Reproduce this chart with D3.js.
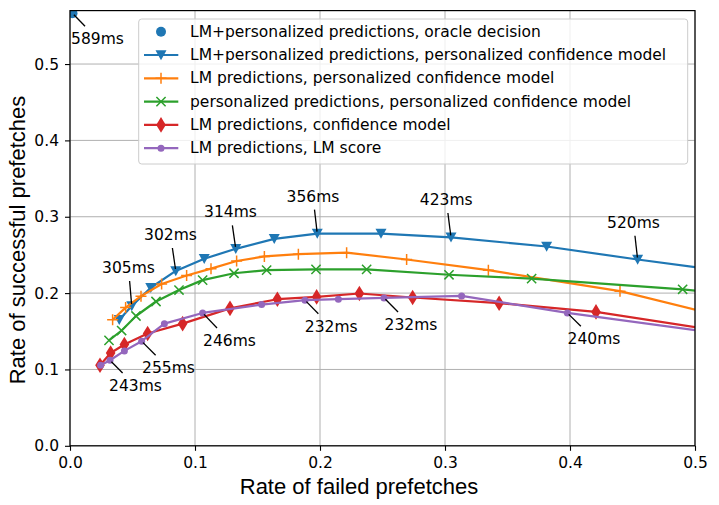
<!DOCTYPE html>
<html>
<head>
<meta charset="utf-8">
<script src="https://cdn.jsdelivr.net/npm/d3@7"></script>
<style>
  body { margin: 0; background: #fff; }
  svg { display: block; }
  .tick text { font-family: "DejaVu Sans", sans-serif; font-size: 15.5px; fill: #000; }
  .tick line { stroke: #000; stroke-width: 1.1; }
</style>
</head>
<body>
<svg id="chart" width="719" height="505"></svg>
<script>
// values (rate of failed prefetches, rate of successful prefetches)
var seriesNames = [
    "LM+personalized predictions, oracle decision",
    "LM+personalized predictions, personalized confidence model",
    "LM predictions, personalized confidence model",
    "personalized predictions, personalized confidence model",
    "LM predictions, confidence model",
    "LM predictions, LM score"
];

var oracleX = [0.002];
var oracleY = [0.5665];

var bothX = [0.0394, 0.0494, 0.0646, 0.0846, 0.1074, 0.1326, 0.1634, 0.1978, 0.2488, 0.3048, 0.3813, 0.4541, 0.527];
var bothY = [0.165, 0.183, 0.207, 0.229, 0.245, 0.258, 0.271, 0.278, 0.278, 0.273, 0.261, 0.244, 0.228];

var lmPersX = [0.0341, 0.0445, 0.0568, 0.0733, 0.0933, 0.1128, 0.1333, 0.1555, 0.1827, 0.2213, 0.2693, 0.3347, 0.44, 0.55];
var lmPersY = [0.165, 0.181, 0.196, 0.212, 0.223, 0.232, 0.242, 0.248, 0.251, 0.253, 0.244, 0.230, 0.2025, 0.158];

var persX = [0.0312, 0.0413, 0.0528, 0.0688, 0.0872, 0.1061, 0.1312, 0.1573, 0.1968, 0.2373, 0.3032, 0.3693, 0.4901, 0.58];
var persY = [0.138, 0.151, 0.170, 0.189, 0.204, 0.217, 0.226, 0.230, 0.231, 0.231, 0.224, 0.219, 0.205, 0.19];

var lmConfX = [0.024, 0.0325, 0.0435, 0.0621, 0.0901, 0.128, 0.1659, 0.1973, 0.2315, 0.2741, 0.3433, 0.4208, 0.56];
var lmConfY = [0.1055, 0.1216, 0.1326, 0.147, 0.160, 0.180, 0.192, 0.195, 0.1995, 0.1942, 0.1868, 0.1754, 0.1405];

var lmScoreX = [0.0245, 0.032, 0.0435, 0.0573, 0.0755, 0.1061, 0.1533, 0.188, 0.2147, 0.2512, 0.3133, 0.3979, 0.55];
var lmScoreY = [0.1055, 0.112, 0.1243, 0.137, 0.160, 0.174, 0.185, 0.1907, 0.192, 0.1937, 0.1963, 0.174, 0.1405];

// annotations: label, series index, point index, text position (data units)
var noteLabels = ["589ms", "305ms", "302ms", "314ms", "356ms", "423ms", "520ms", "243ms", "255ms", "246ms", "232ms", "232ms", "240ms"];
var noteSeries = [0, 1, 1, 1, 1, 1, 1, 5, 5, 5, 5, 5, 5];
var notePoint  = [0, 1, 3, 5, 7, 9, 11, 1, 3, 5, 7, 9, 11];
var noteTextX  = [0.022, 0.0468, 0.0804, 0.1284, 0.1944, 0.301, 0.4508, 0.0524, 0.0788, 0.1276, 0.209, 0.2728, 0.4192];
var noteTextY  = [0.5324, 0.2329, 0.2761, 0.3058, 0.3263, 0.3219, 0.2922, 0.0783, 0.1015, 0.1373, 0.156, 0.1582, 0.1395];

var xTicks = [0, 0.1, 0.2, 0.3, 0.4, 0.5];
var yTicks = [0, 0.1, 0.2, 0.3, 0.4, 0.5];

var colors = ["#1f77b4", "#1f77b4", "#ff7f0e", "#2ca02c", "#d62728", "#9467bd"];
var markers = ["circle", "tri", "plus", "cross", "diamond", "dot"];

var allX = [oracleX, bothX, lmPersX, persX, lmConfX, lmScoreX];
var allY = [oracleY, bothY, lmPersY, persY, lmConfY, lmScoreY];
var series = allX.map(function (xs, s) {
    return xs.map(function (x, i) { return { x: x, y: allY[s][i] }; });
});

var plotLeft = 70, plotRight = 695, plotTop = 10.6, plotBottom = 445.8;
var svg = d3.select("#chart");

var xScale = d3.scaleLinear().domain([0, 0.5]).range([plotLeft, plotRight]);
var yScale = d3.scaleLinear().domain([0, 0.57]).range([plotBottom, plotTop]);

svg.append("defs")
    .append("clipPath")
    .attr("id", "plotclip")
    .append("rect")
    .attr("x", plotLeft)
    .attr("y", plotTop)
    .attr("width", plotRight - plotLeft)
    .attr("height", plotBottom - plotTop);

// grid
svg.append("g")
    .selectAll("line")
    .data(xTicks)
    .enter()
    .append("line")
    .attr("x1", function (d) { return xScale(d); })
    .attr("x2", function (d) { return xScale(d); })
    .attr("y1", plotTop)
    .attr("y2", plotBottom)
    .attr("stroke", "#b0b0b0")
    .attr("stroke-width", 1);

svg.append("g")
    .selectAll("line")
    .data(yTicks)
    .enter()
    .append("line")
    .attr("x1", plotLeft)
    .attr("x2", plotRight)
    .attr("y1", function (d) { return yScale(d); })
    .attr("y2", function (d) { return yScale(d); })
    .attr("stroke", "#b0b0b0")
    .attr("stroke-width", 1);

function markerPath(type) {
    if (type === "tri") return "M-5.5,-4.8L5.5,-4.8L0,5.2Z";
    if (type === "plus") return "M-5.5,0H5.5M0,-5.5V5.5";
    if (type === "cross") return "M-4.6,-4.6L4.6,4.6M-4.6,4.6L4.6,-4.6";
    if (type === "diamond") return "M0,-7.8L4.8,0L0,7.8L-4.8,0Z";
    return null;
}

function drawMarker(g, type, color) {
    if (type === "circle") {
        g.append("circle").attr("r", 5).attr("fill", color);
    } else if (type === "dot") {
        g.append("circle").attr("r", 3.5).attr("fill", color);
    } else if (type === "plus" || type === "cross") {
        g.append("path")
            .attr("d", markerPath(type))
            .attr("fill", "none")
            .attr("stroke", color)
            .attr("stroke-width", 1.5);
    } else {
        g.append("path").attr("d", markerPath(type)).attr("fill", color);
    }
}

var line = d3.line()
    .x(function (d) { return xScale(d.x); })
    .y(function (d) { return yScale(d.y); });

var plot = svg.append("g").attr("clip-path", "url(#plotclip)");

series.forEach(function (data, s) {
    var g = plot.append("g");
    if (s > 0) {
        g.append("path")
            .datum(data)
            .attr("d", line)
            .attr("fill", "none")
            .attr("stroke", colors[s])
            .attr("stroke-width", 2.2)
            .attr("stroke-linejoin", "round");
    }
    g.selectAll(".m")
        .data(data)
        .enter()
        .append("g")
        .attr("transform", function (d) {
            return "translate(" + xScale(d.x) + "," + yScale(d.y) + ")";
        })
        .each(function () { drawMarker(d3.select(this), markers[s], colors[s]); });
});

// annotations
var notes = svg.append("g");
noteLabels.forEach(function (label, i) {
    var target = series[noteSeries[i]][notePoint[i]];
    var px = xScale(target.x), py = yScale(target.y);
    var tx = xScale(noteTextX[i]), ty = yScale(noteTextY[i]);
    var t = notes.append("text")
        .attr("x", tx)
        .attr("y", ty)
        .attr("text-anchor", "middle")
        .attr("dominant-baseline", "central")
        .attr("font-family", "DejaVu Sans, sans-serif")
        .attr("font-size", "15.5px")
        .text(label);
    var hw = t.node().getComputedTextLength() / 2 + 4;
    var hh = 13;
    var dx = px - tx, dy = py - ty;
    var k = Math.min(dx !== 0 ? hw / Math.abs(dx) : Infinity, dy !== 0 ? hh / Math.abs(dy) : Infinity);
    var len = Math.sqrt(dx * dx + dy * dy);
    var k2 = 1 - 2 / len;
    if (k < k2) {
        notes.append("line")
            .attr("x1", tx + dx * k)
            .attr("y1", ty + dy * k)
            .attr("x2", tx + dx * k2)
            .attr("y2", ty + dy * k2)
            .attr("stroke", "#000")
            .attr("stroke-width", 1.3);
    }
});

// axes
var xAxis = d3.axisBottom(xScale).tickValues(xTicks).tickSize(5).tickPadding(6).tickFormat(d3.format(".1f"));
var yAxis = d3.axisLeft(yScale).tickValues(yTicks).tickSize(5).tickPadding(6).tickFormat(d3.format(".1f"));

svg.append("g")
    .attr("transform", "translate(0," + plotBottom + ")")
    .call(xAxis)
    .call(function (g) { g.select(".domain").remove(); });

svg.append("g")
    .attr("transform", "translate(" + plotLeft + ",0)")
    .call(yAxis)
    .call(function (g) { g.select(".domain").remove(); });

svg.append("rect")
    .attr("x", plotLeft)
    .attr("y", plotTop)
    .attr("width", plotRight - plotLeft)
    .attr("height", plotBottom - plotTop)
    .attr("fill", "none")
    .attr("stroke", "#000")
    .attr("stroke-width", 1.2);

svg.append("text")
    .attr("x", 359)
    .attr("y", 494.3)
    .attr("text-anchor", "middle")
    .attr("font-family", "Liberation Sans, Arial, sans-serif")
    .attr("font-size", "22px")
    .text("Rate of failed prefetches");

svg.append("text")
    .attr("transform", "translate(25,240) rotate(-90)")
    .attr("text-anchor", "middle")
    .attr("font-family", "Liberation Sans, Arial, sans-serif")
    .attr("font-size", "22px")
    .text("Rate of successful prefetches");

// legend
var legend = svg.append("g");
legend.append("rect")
    .attr("x", 138.7)
    .attr("y", 19)
    .attr("width", 549)
    .attr("height", 145)
    .attr("rx", 3)
    .attr("fill", "#fff")
    .attr("fill-opacity", 0.8)
    .attr("stroke", "#cccccc")
    .attr("stroke-width", 1);

var rows = legend.selectAll(".legend")
    .data(seriesNames)
    .enter()
    .append("g")
    .attr("class", "legend")
    .attr("transform", function (d, i) {
        return "translate(0," + (31.7 + i * 23.3) + ")";
    });

rows.each(function (d, i) {
    var r = d3.select(this);
    if (i > 0) {
        r.append("line")
            .attr("x1", 144)
            .attr("x2", 178.3)
            .attr("stroke", colors[i])
            .attr("stroke-width", 2.2);
    }
    var m = r.append("g").attr("transform", "translate(161,0)");
    drawMarker(m, markers[i], colors[i]);
    r.append("text")
        .attr("x", 190)
        .attr("dominant-baseline", "central")
        .attr("font-family", "DejaVu Sans, sans-serif")
        .attr("font-size", "15.5px")
        .text(d);
});
</script>
</body>
</html>
